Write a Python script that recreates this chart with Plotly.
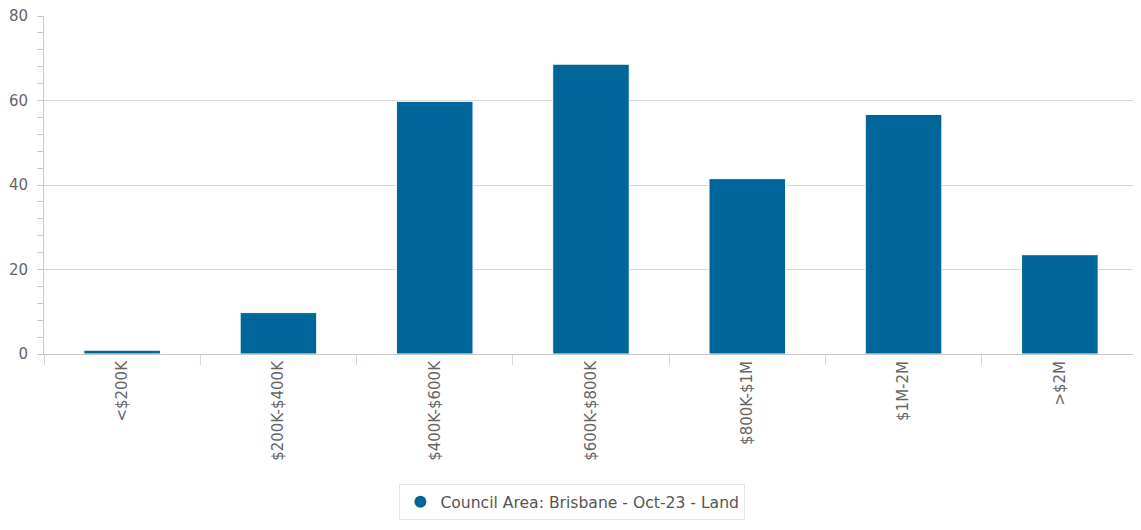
import plotly.graph_objects as go

categories = ["<$200K", "$200K-$400K", "$400K-$600K", "$600K-$800K", "$800K-$1M", "$1M-2M", ">$2M"]
values = [0.9, 9.8, 59.8, 68.6, 41.5, 56.7, 23.5]
series_name = "Council Area: Brisbane - Oct-23 - Land"
y_ticks = [0, 20, 40, 60, 80]

color = "#006699"
font = "DejaVu Sans"

fig = go.Figure()
fig.add_trace(go.Bar(x=categories, y=values, marker=dict(color=color, line=dict(width=1, color="#ffffff")),
                     width=0.49, showlegend=False, name=series_name))
fig.add_trace(go.Scatter(x=[None], y=[None], mode="markers", name=series_name,
                         marker=dict(symbol="circle", size=14, color=color)))

fig.update_layout(
    width=1133, height=522,
    margin=dict(l=36, r=3, t=8, b=176),
    plot_bgcolor="white", paper_bgcolor="white",
    font=dict(family=font, size=15, color="#666666"),
    bargap=0.5,
    legend=dict(orientation="h", x=0.483, xanchor="center", y=-0.385, yanchor="top",
                bordercolor="#e6e6e6", borderwidth=1, font=dict(size=15.6, color="#555555"),
                itemsizing="constant"),
)
fig.update_xaxes(
    type="category", tickangle=-90, tickson="boundaries",
    ticks="outside", ticklen=10, tickcolor="#ccd6eb",
    showline=True, linecolor="#c8c8c8", linewidth=1,
    showgrid=False, tickfont=dict(size=15, color="#666666"), automargin=False,
)
fig.update_yaxes(
    range=[0, 80], tickvals=y_ticks, showgrid=True, gridcolor="#d8d8d8", gridwidth=1,
    showline=True, linecolor="#c8c8c8", linewidth=1, zeroline=False,
    ticks="", ticklen=0, automargin=False, ticklabelstandoff=12,
    ticklabeloverflow="allow",
    minor=dict(ticks="outside", dtick=4, ticklen=6, tickcolor="#c8c8c8", showgrid=False),
    tickfont=dict(size=15, color="#666666"),
)

fig.write_html("out.html")
